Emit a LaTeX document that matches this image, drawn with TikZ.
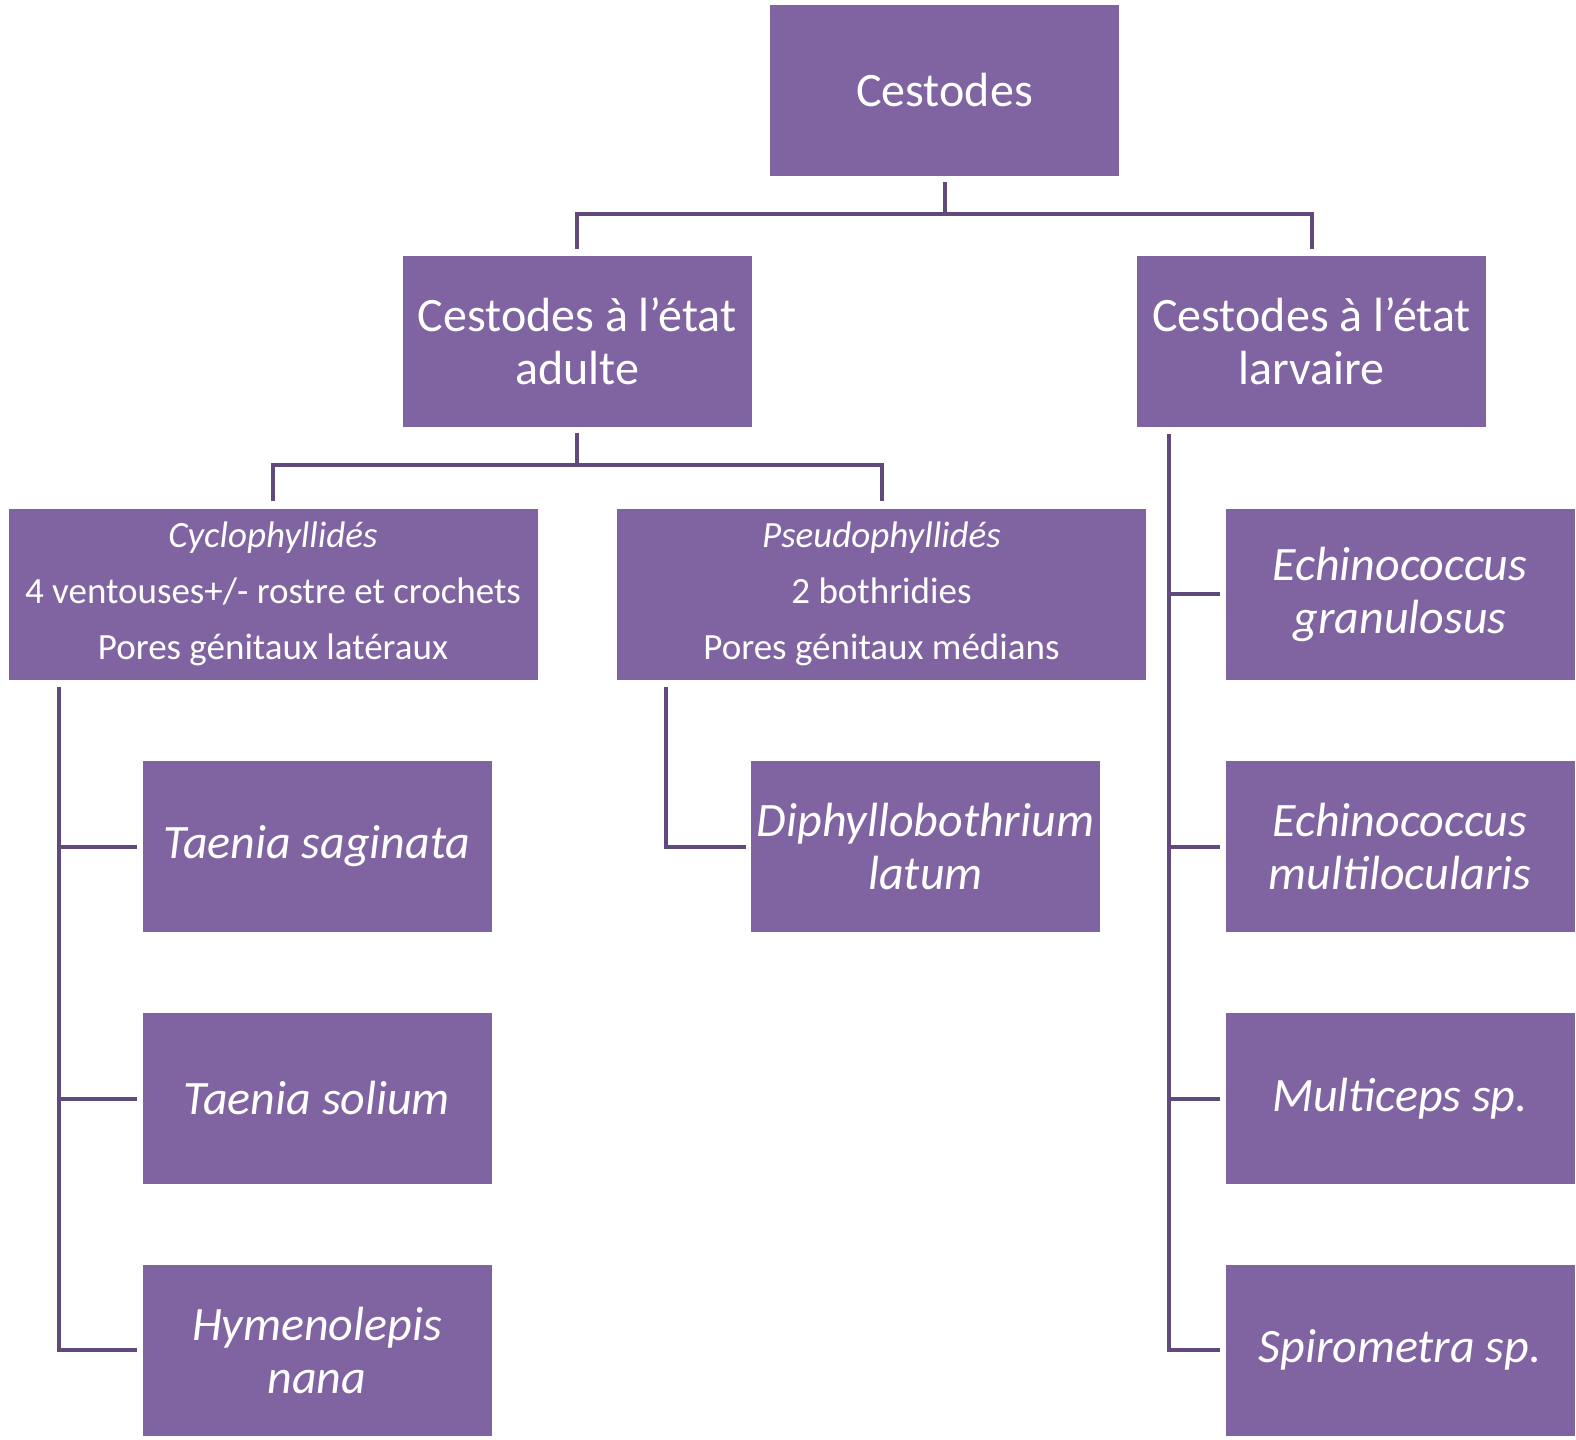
\documentclass[tikz,border=0pt]{standalone}
\usepackage{fontspec}
\setmainfont{Carlito}
\definecolor{cestbox}{RGB}{128,100,162}
\definecolor{cestline}{RGB}{96,74,123}
\tikzset{
  box/.style={rectangle, fill=cestbox, text=white, align=center, inner sep=0pt,
    minimum width=174.5pt, minimum height=85.5pt, font=\fontsize{24}{26.5}\selectfont},
  widebox/.style={box, minimum width=264.5pt, font=\fontsize{18.5}{28}\selectfont},
  species/.style={box, font=\fontsize{24}{26.5}\selectfont\itshape},
  link/.style={cestline, line width=2pt},
}
\begin{document}
\begin{tikzpicture}[x=0.5pt, y=-0.5pt]
  \useasboundingbox (0,0) rectangle (1576,1440);

  % levels
  \node [box] (cest) at (944.5,90) {Cestodes};
  \node [box] (adult) at (577,341.5) {Cestodes à l’état\\adulte};
  \node [box] (larv) at (1311.5,341.5) {Cestodes à l’état\\larvaire};

  \node [widebox] (cyclo) at (273,594)
    {{\itshape Cyclophyllidés}\\4 ventouses+/- rostre et crochets\\Pores génitaux latéraux};
  \node [widebox] (pseudo) at (881.5,594)
    {{\itshape Pseudophyllidés}\\2 bothridies\\Pores génitaux médians};

  % species
  \node [species] (tsag) at (317,846.5) {Taenia saginata};
  \node [species] (tsol) at (317,1098.5) {Taenia solium};
  \node [species] (hymeno) at (317,1350) {Hymenolepis\\nana};
  \node [species] (diphyl) at (925.5,846.5) {Diphyllobothrium\\latum};
  \node [species] (egran) at (1400,594) {Echinococcus\\granulosus};
  \node [species] (emult) at (1400,846.5) {Echinococcus\\multilocularis};
  \node [species] (multi) at (1400,1098.5) {Multiceps sp.};
  \node [species] (spiro) at (1400,1350) {Spirometra sp.};

  % connectors
  \draw [link, shorten <=3pt, shorten >=3.5pt] (cest.south) -- ++(0,-19pt) -| (adult.north);
  \draw [link, shorten <=3pt, shorten >=3.5pt] (cest.south) -- ++(0,-19pt) -| (larv.north);
  \draw [link, shorten <=3pt, shorten >=3.5pt] (adult.south) -- ++(0,-19pt) -| (cyclo.north);
  \draw [link, shorten <=3pt, shorten >=3.5pt] (adult.south) -- ++(0,-19pt) -| (pseudo.north);

  \draw [link] (cyclo.south west) ++(25.5pt,-3.5pt) |- ([xshift=-2.5pt]tsag.west);
  \draw [link] (cyclo.south west) ++(25.5pt,-3.5pt) |- ([xshift=-2.5pt]tsol.west);
  \draw [link] (cyclo.south west) ++(25.5pt,-3.5pt) |- ([xshift=-2.5pt]hymeno.west);
  \draw [link] (pseudo.south west) ++(24.5pt,-3.5pt) |- ([xshift=-2.5pt]diphyl.west);

  \draw [link] (larv.south west) ++(16pt,-3.5pt) |- ([xshift=-2.5pt]egran.west);
  \draw [link] (larv.south west) ++(16pt,-3.5pt) |- ([xshift=-2.5pt]emult.west);
  \draw [link] (larv.south west) ++(16pt,-3.5pt) |- ([xshift=-2.5pt]multi.west);
  \draw [link] (larv.south west) ++(16pt,-3.5pt) |- ([xshift=-2.5pt]spiro.west);
\end{tikzpicture}
\end{document}
